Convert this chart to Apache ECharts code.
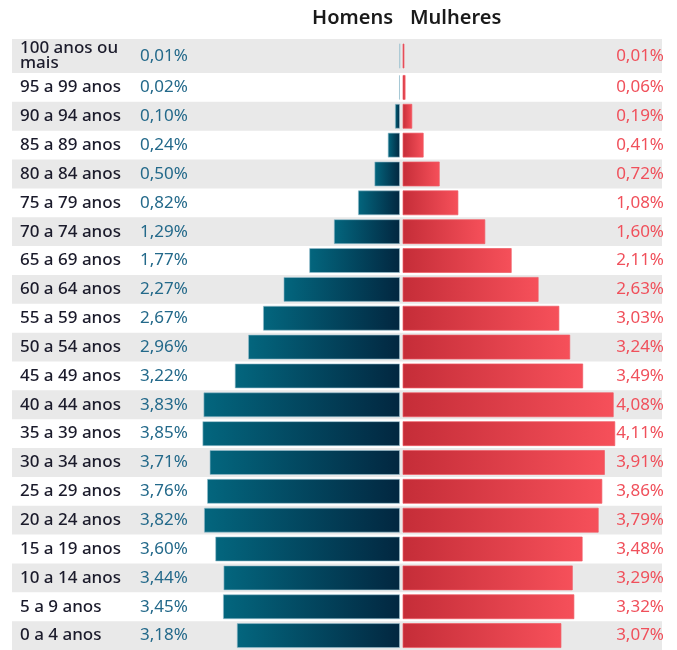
<!DOCTYPE html>
<html>
<head>
<meta charset="utf-8">
<script src="https://cdn.jsdelivr.net/npm/echarts@6/dist/echarts.min.js"></script>
<style>html,body{margin:0;padding:0;background:#fff}#c{width:677px;height:650px}</style>
</head>
<body>
<div id="c"></div>
<script>
const categories = ['100 anos ou\nmais','95 a 99 anos','90 a 94 anos','85 a 89 anos','80 a 84 anos','75 a 79 anos','70 a 74 anos','65 a 69 anos','60 a 64 anos','55 a 59 anos','50 a 54 anos','45 a 49 anos','40 a 44 anos','35 a 39 anos','30 a 34 anos','25 a 29 anos','20 a 24 anos','15 a 19 anos','10 a 14 anos','5 a 9 anos','0 a 4 anos'];
const homens = [0.01,0.02,0.10,0.24,0.50,0.82,1.29,1.77,2.27,2.67,2.96,3.22,3.83,3.85,3.71,3.76,3.82,3.60,3.44,3.45,3.18];
const mulheres = [0.01,0.06,0.19,0.41,0.72,1.08,1.60,2.11,2.63,3.03,3.24,3.49,4.08,4.11,3.91,3.86,3.79,3.48,3.29,3.32,3.07];
const seriesNames = ['Homens','Mulheres'];

const FONT = 'Noto Sans';
const fmt = v => v.toFixed(2).replace('.', ',') + '%';

const sections = [
  {start:0, end:1, top:39, height:34, colors:['#e9e9e9']},
  {start:1, end:21, top:73, height:578, colors:['rgba(0,0,0,0)','#e9e9e9']}
];

const grid = [], xAxis = [], yAxis = [], series = [];
const maleGrad = {type:'linear',x:0,y:0,x2:1,y2:0,colorStops:[{offset:0,color:'#03667e'},{offset:1,color:'#022740'}]};
const femGrad = {type:'linear',x:0,y:0,x2:1,y2:0,colorStops:[{offset:0,color:'#c52d38'},{offset:1,color:'#f6505a'}]};

sections.forEach(s => {
  const cats = categories.slice(s.start, s.end);
  const m = homens.slice(s.start, s.end);
  const f = mulheres.slice(s.start, s.end);
  const g0 = grid.length;
  grid.push({left:12, right:15, top:s.top, height:s.height});
  grid.push({left:169, right:277, top:s.top, height:s.height});
  grid.push({left:402.5, width:233, top:s.top, height:s.height});
  xAxis.push({gridIndex:g0, type:'value', show:false, min:0, max:1});
  xAxis.push({gridIndex:g0+1, type:'value', show:false, min:0, max:4.5, inverse:true});
  xAxis.push({gridIndex:g0+2, type:'value', show:false, min:0, max:4.5});
  const y0 = yAxis.length;
  yAxis.push({gridIndex:g0, type:'category', data:cats, inverse:true,
    axisLine:{show:false}, axisTick:{show:false},
    splitArea:{show:true, interval:0, areaStyle:{color:s.colors}},
    axisLabel:{interval:0, align:'left', margin:-8, color:'#1b1b2b', fontFamily:FONT, fontSize:17, fontWeight:500, lineHeight:15}});
  yAxis.push({gridIndex:g0, type:'category', data:cats, inverse:true, position:'left', offset:-128,
    axisLine:{show:false}, axisTick:{show:false},
    axisLabel:{interval:0, align:'left', margin:0, color:'#23698a', fontFamily:FONT, fontSize:17,
      formatter:(v, i) => fmt(m[i])}});
  yAxis.push({gridIndex:g0, type:'category', data:cats, inverse:true, position:'right',
    axisLine:{show:false}, axisTick:{show:false},
    axisLabel:{interval:0, align:'right', margin:2, color:'#f0505b', fontFamily:FONT, fontSize:17,
      formatter:(v, i) => fmt(f[i])}});
  yAxis.push({gridIndex:g0+1, type:'category', data:cats, inverse:true, show:false});
  yAxis.push({gridIndex:g0+2, type:'category', data:cats, inverse:true, show:false});
  series.push({name:seriesNames[0], type:'bar', xAxisIndex:g0+1, yAxisIndex:y0+3, data:m, barWidth:25, silent:true,
    itemStyle:{color:maleGrad, borderColor:'rgba(150,190,205,0.6)', borderWidth:1}});
  series.push({name:seriesNames[1], type:'bar', xAxisIndex:g0+2, yAxisIndex:y0+4, data:f, barWidth:25, silent:true, barMinHeight:2,
    itemStyle:{color:femGrad, borderColor:'rgba(240,90,100,0.7)', borderWidth:1}});
});

const chart = echarts.init(document.getElementById('c'), null, {renderer:'canvas'});
chart.setOption({
  animation:false,
  grid, xAxis, yAxis, series,
  graphic:[
    {type:'text', x:393, y:18, style:{text:seriesNames[0], align:'right', verticalAlign:'middle', font:'600 20px "Noto Sans"', fill:'#1a1a1a'}},
    {type:'text', x:410, y:18, style:{text:seriesNames[1], align:'left', verticalAlign:'middle', font:'600 20px "Noto Sans"', fill:'#1a1a1a'}}
  ]
});
</script>
</body>
</html>
